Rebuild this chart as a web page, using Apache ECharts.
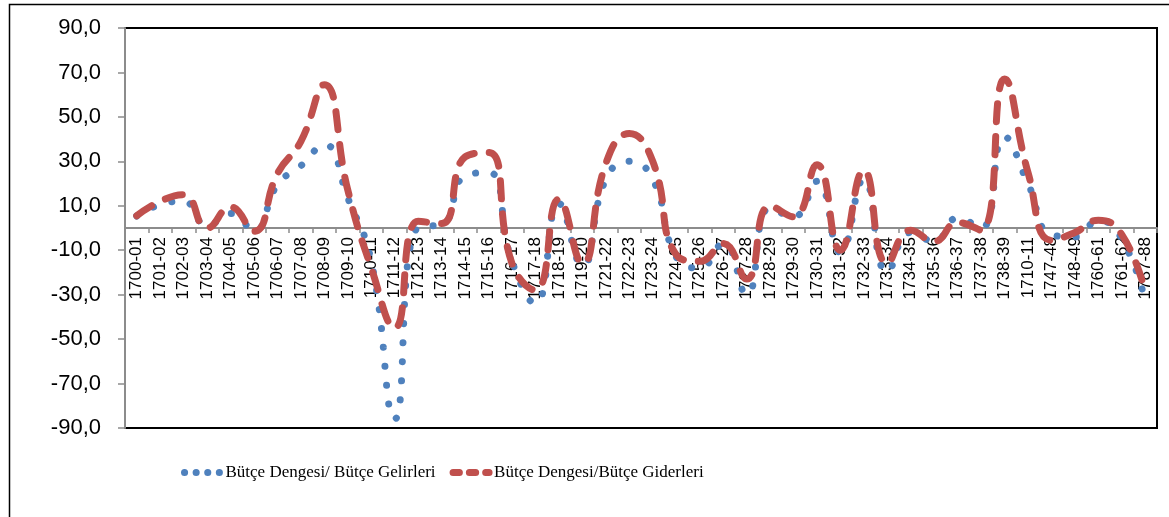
<!DOCTYPE html>
<html>
<head>
<meta charset="utf-8">
<script src="https://cdn.jsdelivr.net/npm/echarts@6/dist/echarts.min.js"></script>
<style>
  html, body { margin: 0; padding: 0; background: #fff; }
  #main { width: 1169px; height: 517px; }
</style>
</head>
<body>
<div id="main"></div>
<script>
// categories (years)
const categories = [
  '1700-01', '1701-02', '1702-03', '1703-04', '1704-05', '1705-06', '1706-07', '1707-08',
  '1708-09', '1709-10', '1710-11', '1711-12', '1712-13', '1713-14', '1714-15', '1715-16',
  '1716-17', '1717-18', '1718-19', '1719-20', '1721-22', '1722-23', '1723-24', '1724-25',
  '1725-26', '1726-27', '1727-28', '1728-29', '1729-30', '1730-31', '1731-32', '1732-33',
  '1733-34', '1734-35', '1735-36', '1736-37', '1737-38', '1738-39', '1710-11', '1747-48',
  '1748-49', '1760-61', '1761-62', '1787-88'
];

// Bütçe Dengesi / Bütçe Gelirleri (blue, dotted)
const gelirler = [
  5.4, 10.5, 12, 1, 6.5, -1, 19.5, 28,
  37.5, 13.5, -15, -86, 0.5, 1.5, 23.5, 25,
  -15, -34, 11, -17, 22, 30, 22, -13,
  -18, -7, -30, 9, 5, 21, -11, 22,
  -20, -2, -6, 4.5, 0, 41, 20, -3,
  -4, 3.3, -5, -33
];

// Bütçe Dengesi / Bütçe Giderleri (red, dashed)
const giderler = [
  5.5, 12, 15, 0, 9.5, -1.5, 24.5, 39,
  64.5, 17, -18, -45, 3, 2, 32, 34,
  -16, -28, 13, -16, 29, 42.5, 30, -12,
  -15, -7, -23, 10, 5, 28.5, -10, 26,
  -16, -1, -6, 2.5, -1, 67, 25, -5.5,
  -2, 3.5, -3, -29
];

const yTicks = { min: -90, max: 90, step: 20 };

const nameGelir = 'Bütçe Dengesi/ Bütçe Gelirleri';
const nameGider = 'Bütçe Dengesi/Bütçe Giderleri';

const gridTop = 28, gridBottom = 89, chartH = 517;
// x axis sits on the zero line, labels hang below it
const plotH = chartH - gridTop - gridBottom;
const zeroShift = plotH * (0 - yTicks.min) / (yTicks.max - yTicks.min);

// hide the round marker ECharts puts in the middle of a line legend icon
const noMarker = { color: 'rgba(0,0,0,0)', borderWidth: 0 };

const chart = echarts.init(document.getElementById('main'));

const option = {
  animation: false,
  backgroundColor: '#fff',
  graphic: [
    {
      type: 'rect',
      left: 7, top: 2,
      shape: { width: 1200, height: 600 },
      style: { fill: 'none', stroke: '#000', lineWidth: 1.5 },
      silent: true
    }
  ],
  grid: {
    left: 125, right: 12, top: gridTop, bottom: gridBottom,
    show: true,
    borderColor: '#000',
    borderWidth: 2
  },
  legend: {
    left: 176,
    top: 459,
    itemWidth: 36,
    itemHeight: 14,
    itemGap: 14,
    textStyle: {
      fontFamily: 'Liberation Serif',
      fontSize: 17,
      color: '#000'
    },
    data: [
      {
        name: nameGelir,
        itemStyle: noMarker,
        lineStyle: { type: [0.1, 11.5], width: 7, cap: 'round' }
      },
      {
        name: nameGider,
        itemStyle: noMarker,
        lineStyle: { type: [6.3, 10], width: 7, cap: 'round' }
      }
    ]
  },
  xAxis: {
    type: 'category',
    data: categories,
    boundaryGap: true,
    position: 'bottom',
    offset: -zeroShift,
    axisLine: { onZero: false, lineStyle: { color: '#8c8c8c', width: 2 } },
    axisTick: { show: true, length: 5, interval: 0, lineStyle: { color: '#8c8c8c', width: 1.5 } },
    axisLabel: {
      interval: 0,
      rotate: 90,
      margin: 9,
      fontFamily: 'Liberation Sans',
      fontSize: 17,
      color: '#000'
    },
    splitLine: { show: false }
  },
  yAxis: {
    type: 'value',
    min: yTicks.min,
    max: yTicks.max,
    interval: yTicks.step,
    axisLine: { show: true, lineStyle: { color: '#8c8c8c', width: 2 } },
    axisTick: { show: true, length: 7, lineStyle: { color: '#8c8c8c', width: 1.5 } },
    axisLabel: {
      margin: 24,
      fontFamily: 'Liberation Sans',
      fontSize: 22,
      color: '#000',
      formatter: v => v.toFixed(1).replace('.', ',')
    },
    splitLine: { show: false }
  },
  series: [
    {
      name: nameGelir,
      type: 'line',
      smooth: true,
      symbol: 'none',
      data: gelirler,
      itemStyle: { color: '#4F81BD' },
      lineStyle: { color: '#4F81BD', width: 7, type: [0.1, 18.9], cap: 'round' }
    },
    {
      name: nameGider,
      type: 'line',
      smooth: true,
      symbol: 'none',
      data: giderler,
      itemStyle: { color: '#C0504D' },
      lineStyle: { color: '#C0504D', width: 7, type: [18, 15], cap: 'round' }
    }
  ]
};

chart.setOption(option);
</script>
</body>
</html>
